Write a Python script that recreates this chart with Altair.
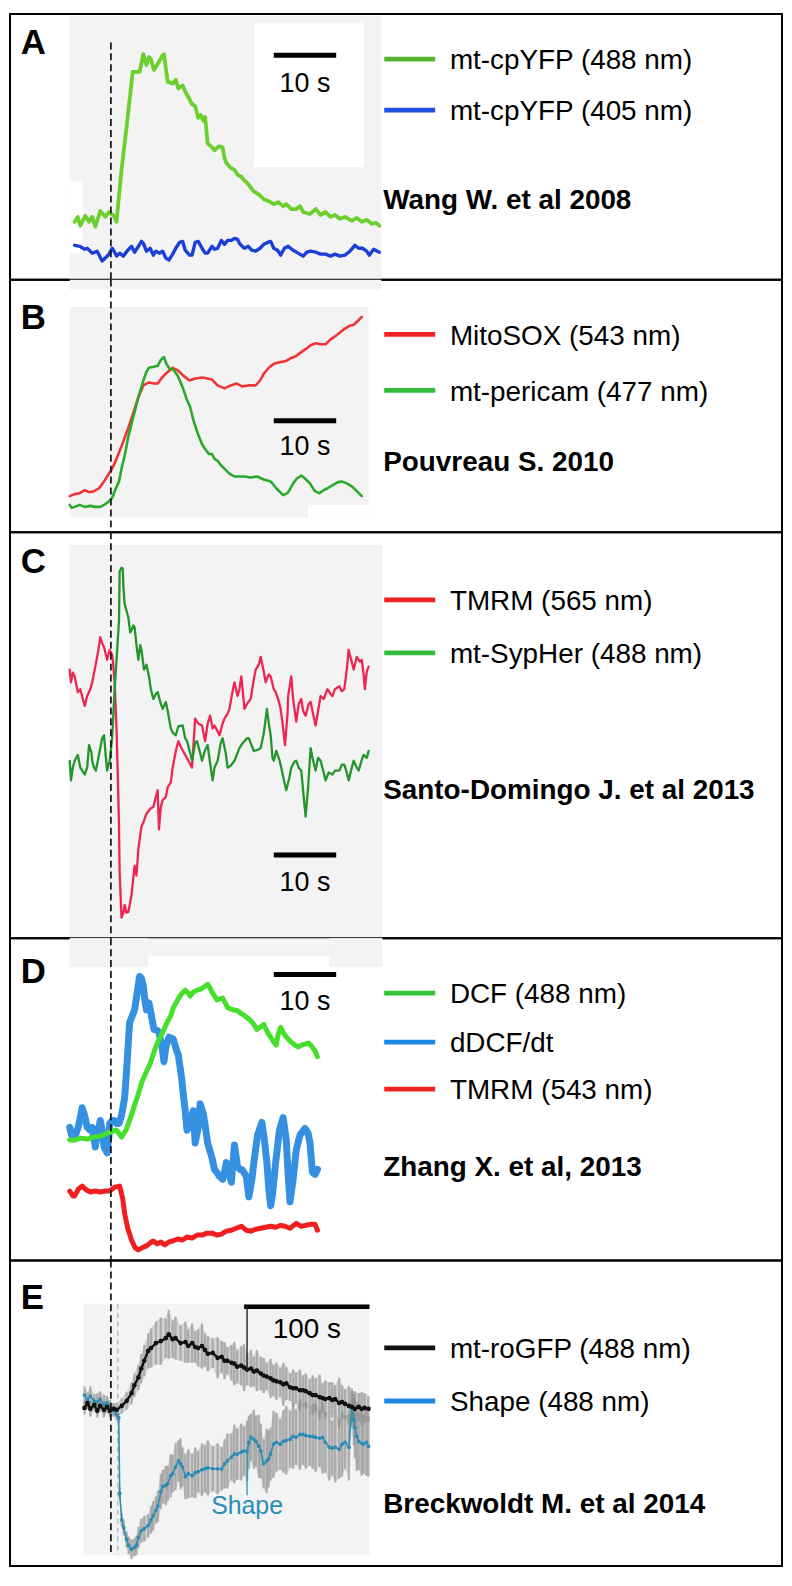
import altair as alt
import pandas as pd

# ---------------- data ----------------
# time: seconds relative to the stimulus (dashed line); signal: arbitrary units

# Panel A  (Wang W. et al 2008)
T_A_G = [-5.8,-5.3,-4.9,-4.1,-3.5,-3.0,-2.5,-1.7,-0.9,-0.3,0.5,0.9,1.7,2.5,3.5,4.6,5.2,5.7,6.1,6.4,
         6.9,7.7,8.2,8.5,9.1,9.9,10.4,10.8,11.5,11.9,12.6,13.0,13.5,14.0,14.4,14.8,15.1,15.5,16.2,16.6,
         17.3,17.9,18.2,18.5,19.2,19.8,20.3,20.9,21.4,21.8,22.4,22.9,23.7,24.5,25.3,26.1,26.8,27.6,28.1,28.9,
         29.7,30.3,30.8,31.9,32.8,33.6,34.4,35.2,35.9,36.7,37.5,38.6,39.4,40.2,41.0,41.8,42.5,43.0]
V_A_G = [59,64,55,65,59,64,54,70,64,69,65,59,112,155,212,212,230,219,227,225,
         214,222,228,230,202,200,204,195,198,192,184,179,177,165,168,162,166,139,135,132,
         136,135,124,119,114,112,107,105,101,99,94,90,87,82,80,77,79,75,77,72,
         72,75,69,67,72,66,69,64,66,62,64,60,63,59,61,57,58,55]
T_A_B = [-5.8,-5.0,-4.2,-3.8,-3.0,-2.2,-1.4,-0.9,-0.3,0.2,0.6,0.9,1.4,2.0,2.7,3.3,3.8,4.4,4.9,5.2,
         5.7,6.3,6.8,7.2,7.8,8.3,8.8,9.3,9.9,10.4,11.0,11.5,11.9,12.6,13.0,13.5,14.0,14.6,15.1,15.5,
         16.2,16.6,17.1,17.7,18.2,18.7,19.3,19.8,20.3,20.7,21.4,22.0,22.6,23.2,23.9,24.5,25.1,25.6,26.1,26.7,
         27.2,27.8,28.4,29.2,30.0,30.8,31.4,32.0,32.8,33.6,34.4,35.2,35.9,36.7,37.5,38.3,39.1,39.7,40.3,41.0,
         41.4,42.1,43.0]
V_A_B = [35,34,31,32,27,29,19,22,26,32,28,24,27,24,30,34,28,34,39,37,
         29,32,25,29,27,29,22,20,26,32,38,39,30,25,25,38,39,32,27,27,
         34,31,32,40,36,40,40,42,41,36,32,34,30,29,32,36,38,39,32,30,
         25,32,34,30,27,24,28,29,28,26,26,24,26,24,25,29,35,32,32,29,
         25,31,28]

# Panel B  (Pouvreau S. 2010)
T_B_R = [-6.6,-5.8,-5.0,-4.2,-3.5,-2.7,-1.9,-1.1,-0.5,0.2,0.9,1.7,2.7,3.6,4.4,5.2,6.1,6.9,7.5,8.2,
         8.8,9.9,10.8,11.6,12.6,13.5,14.6,15.5,16.2,17.1,18.2,19.2,20.1,21.0,22.1,23.2,23.9,24.5,25.3,26.1,
         27.2,28.1,28.9,29.7,30.5,31.2,32.0,32.8,33.6,34.4,35.2,35.9,36.7,37.5,38.3,38.9,39.6,40.2]
V_B_R = [37,39,40,43,41,42,45,52,58,65,75,88,105,122,138,150,153,152,152,158,
         162,168,165,160,155,157,158,157,156,150,147,150,152,149,150,150,155,162,168,172,
         174,175,178,180,184,187,191,193,192,192,197,200,204,208,211,212,216,220]
T_B_G = [-6.6,-6.3,-5.8,-5.0,-4.2,-3.3,-2.5,-1.7,-1.1,-0.6,0.2,0.6,1.3,1.7,2.2,2.8,3.6,4.4,5.2,5.7,
         6.1,6.9,7.5,8.0,8.5,8.9,9.4,10.0,10.7,11.5,12.2,12.7,13.2,13.7,14.1,14.6,15.1,15.7,16.2,16.6,
         17.1,17.7,18.2,19.0,19.8,20.6,21.4,22.4,23.4,24.5,25.6,26.5,27.6,28.3,28.7,29.2,29.8,30.5,31.1,31.9,
         32.7,33.4,34.1,34.7,35.5,36.3,37.0,37.8,38.6,39.4,40.2]
V_B_G = [28,25,26,28,26,27,26,26,28,30,35,42,52,65,78,98,118,138,155,164,
         168,169,170,176,179,172,167,166,160,148,135,128,115,105,98,90,85,80,80,75,
         73,68,65,60,57,57,57,56,57,54,52,45,38,40,44,50,55,58,55,50,
         42,40,43,45,48,51,52,50,47,42,37]

# Panel C  (Santo-Domingo J. et al 2013)
T_C_R = [-6.6,-6.4,-6.1,-5.8,-5.3,-4.9,-4.2,-3.8,-3.3,-3.0,-2.5,-2.0,-1.7,-1.4,-1.1,-0.6,-0.2,0.2,0.3,0.6,
         0.9,1.1,1.3,1.4,1.7,2.0,2.2,2.5,2.8,3.3,3.8,4.1,4.4,4.9,5.2,5.7,6.3,6.8,7.2,7.5,
         7.7,8.0,8.3,8.8,9.1,9.6,9.9,10.4,10.8,11.3,11.9,12.6,13.0,13.5,14.0,14.6,15.1,15.5,15.9,16.3,
         16.6,17.1,17.4,17.9,18.2,18.7,19.0,19.5,19.8,20.3,20.6,20.9,21.4,21.8,22.4,22.9,23.2,23.7,24.0,24.5,
         24.8,25.3,25.6,26.1,26.4,26.8,27.2,27.6,27.9,28.3,28.4,28.9,29.2,29.7,30.1,30.5,30.8,31.2,31.7,32.0,
         32.5,32.8,33.2,33.6,34.1,34.7,35.2,35.5,35.9,36.6,37.0,37.4,37.8,38.1,38.5,38.9,39.4,39.9,40.2,40.5,
         40.7,41.0,41.3]
V_C_R = [274,261,271,267,251,254,237,247,254,261,277,294,307,301,297,284,294,289,284,261,
         214,167,114,67,21,26,34,26,27,44,74,64,91,114,118,127,132,134,144,151,
         111,134,141,144,154,159,174,191,201,194,187,179,174,224,219,217,201,219,227,214,
         217,211,207,219,224,229,234,252,261,247,254,267,234,239,244,264,274,279,287,272,
         261,269,267,254,251,244,234,214,197,229,247,267,244,221,239,244,232,227,239,241,
         226,217,232,247,244,254,249,247,254,257,252,254,274,294,284,274,287,282,284,269,
         254,272,277]
T_C_G = [-6.6,-6.4,-6.1,-5.8,-5.3,-4.9,-4.2,-3.8,-3.5,-3.1,-3.0,-2.7,-2.4,-2.0,-1.7,-1.4,-1.1,-0.8,-0.6,-0.3,
         -0.2,0.2,0.3,0.6,0.8,1.1,1.3,1.4,1.7,1.9,2.0,2.2,2.5,2.8,3.1,3.3,3.6,3.8,4.1,4.4,
         4.7,4.9,5.2,5.3,5.7,6.1,6.4,6.8,7.2,7.5,8.0,8.3,8.8,9.1,9.6,10.0,10.4,10.8,11.5,11.9,
         12.2,12.7,13.0,13.5,13.8,14.3,14.6,15.1,15.5,16.0,16.3,16.6,17.1,17.6,17.9,18.4,18.7,19.2,19.8,20.3,
         20.6,21.0,21.4,21.8,22.1,22.6,22.9,23.5,24.0,24.5,25.0,25.3,25.6,25.9,26.1,26.5,27.0,27.3,27.8,28.1,
         28.6,28.9,29.4,29.7,30.1,30.5,30.9,31.2,31.6,32.0,32.3,32.8,33.2,33.6,34.1,34.4,34.9,35.5,35.9,36.6,
         37.0,37.4,37.8,38.1,38.6,38.9,39.4,39.7,40.2,40.5,41.0,41.3]
V_C_G = [181,161,174,181,187,174,167,174,197,189,181,174,171,184,194,204,207,184,171,179,
         181,204,217,254,274,304,324,374,378,377,359,341,334,327,312,314,319,317,299,284,
         299,294,279,274,279,267,254,244,249,251,239,234,241,232,214,209,207,216,217,204,
         201,189,181,199,201,189,181,192,197,174,161,174,181,199,204,189,174,176,181,189,
         194,198,201,204,204,196,191,192,194,209,234,219,207,184,181,191,182,174,159,151,
         164,174,180,181,174,171,144,124,154,194,184,171,184,181,169,161,169,167,171,171,
         177,177,169,161,174,181,174,171,182,187,184,191]

# Panel D  (Zhang X. et al, 2013)
T_D_G = [-6.6,-5.8,-4.9,-3.8,-2.7,-1.7,-0.6,0.2,0.9,1.7,2.4,3.0,3.6,4.4,5.0,5.7,6.3,6.9,7.5,8.3,
         9.0,9.6,10.0,10.7,11.3,11.9,12.4,12.7,13.2,13.8,14.4,15.1,15.5,15.9,16.3,17.0,17.4,17.9,18.4,18.7,
         19.5,20.3,20.9,21.4,22.0,22.4,22.9,23.4,23.9,24.5,25.1,25.6,26.1,26.5,26.8,27.2,27.6,27.9,28.4,28.9,
         29.5,30.0,30.6,31.1,31.6,32.0,32.5,32.8,33.1]
V_D_G = [123,123,125,124,126,127,130,132,133,126,133,143,155,170,183,193,201,213,223,233,
         243,250,258,266,272,276,273,270,274,276,277,280,282,278,273,266,267,268,262,258,
         256,255,252,250,247,245,241,236,238,241,233,228,223,220,231,238,233,230,226,223,
         220,218,220,221,222,220,216,213,208]
T_D_B = [-6.6,-6.3,-5.8,-5.3,-5.0,-4.6,-4.2,-3.8,-3.3,-3.0,-2.5,-2.2,-1.7,-1.4,-1.1,-0.6,-0.3,-0.2,0.2,0.5,
         0.9,1.3,1.7,2.2,2.5,3.0,3.5,3.8,4.2,4.6,4.9,5.2,5.5,5.7,6.1,6.4,6.9,7.4,7.7,8.2,
         8.5,8.8,9.3,9.7,10.0,10.5,10.8,11.3,11.6,11.9,12.2,12.7,13.2,13.5,14.0,14.3,14.8,15.1,15.5,16.2,
         16.6,17.1,17.4,17.9,18.2,18.5,19.0,19.3,19.8,20.3,20.7,21.0,21.7,22.1,22.6,22.9,23.5,24.2,24.6,25.0,
         25.3,25.6,25.9,26.4,27.0,27.6,28.1,28.4,28.7,29.2,29.7,30.3,31.1,31.6,31.9,32.3,32.7,33.1]
V_D_B = [136,128,126,135,143,156,148,136,133,136,116,128,143,133,116,110,128,140,143,143,
         140,140,148,166,193,243,251,256,273,290,288,280,263,256,263,253,236,235,233,218,
         203,218,228,227,226,215,210,188,170,153,133,140,153,120,136,160,150,138,120,105,
         93,89,86,83,90,100,88,80,118,96,93,93,86,65,83,100,128,141,123,100,
         73,56,68,100,133,146,123,88,60,83,113,128,135,130,120,90,88,93]
T_D_R = [-6.6,-6.1,-5.8,-5.2,-4.6,-3.9,-3.3,-2.5,-1.7,-0.9,-0.2,0.6,1.4,1.9,2.2,2.7,3.3,3.9,4.4,5.0,
         5.7,6.3,6.8,7.4,8.0,8.6,9.3,9.9,10.7,11.5,12.2,13.0,13.8,14.6,15.4,16.2,17.0,17.7,18.5,19.3,
         20.1,20.9,21.7,22.4,23.2,24.0,24.8,25.6,26.4,27.2,27.9,28.7,29.7,30.5,31.2,32.0,32.7,33.1]
V_D_R = [71,66,66,73,76,72,70,71,70,71,71,75,76,63,48,33,21,13,11,13,
         15,18,20,17,19,16,19,20,22,21,24,23,26,26,28,28,26,27,30,31,
         33,35,31,30,32,33,34,35,34,36,35,33,38,35,36,37,37,31]

# Panel E  (Breckwoldt M. et al 2014)
T_E_K = [-21.1,-18.7,-16.4,-13.3,-10.9,-8.6,-5.5,-3.1,-0.8,2.3,4.7,8.6,12.5,16.4,18.7,21.9,24.2,26.6,29.7,32.0,
         35.9,39.8,43.7,46.1,49.2,51.5,55.5,59.4,61.7,64.8,67.2,69.5,72.6,75.0,77.3,81.2,85.1,88.3,90.6,92.9,
         96.1,98.4,100.7,103.9,106.2,108.6,111.7,114.0,116.4,119.5,121.8,124.2,127.3,129.6,132.0,135.1,137.5,139.8,142.9,145.3,
         147.6,150.7,153.1,155.4,158.5,160.9,163.2,166.4,168.7,171.0,174.2,176.5,178.8,182.0,184.3,186.7,189.8,192.1,194.5,197.6,
         199.9,202.3,205.4]
V_E_K = [161,166,160,164,158,163,159,162,158,160,159,163,168,176,184,192,201,209,219,222,
         227,229,232,236,231,232,227,228,224,227,223,222,224,220,216,217,212,213,209,209,
         207,206,203,204,202,200,201,198,199,196,194,193,191,189,188,187,185,186,182,181,
         181,179,179,178,176,174,174,172,171,170,171,169,170,166,167,165,163,162,160,162,
         160,161,160]
ERR_E_K = [7,6,8,6,7,5,8,6,7,6,7,8,9,11,12,13,15,16,18,20,
           22,24,20,25,19,22,18,21,17,20,16,19,23,17,18,15,21,16,19,14,
           18,22,17,20,24,16,19,15,21,17,18,14,20,16,19,15,22,17,14,19,
           16,21,15,18,14,20,17,23,15,19,16,18,14,26,17,15,20,16,18,14,
           17,15,13]
T_E_S = [-21.1,-18.7,-16.4,-13.3,-10.9,-8.6,-5.5,-3.1,-0.8,2.3,4.7,6.2,7.0,8.6,10.2,12.5,14.1,16.4,18.7,20.3,
         21.9,24.2,26.6,29.7,32.0,33.6,35.9,37.5,39.8,41.4,43.7,45.3,47.6,49.2,51.5,53.9,55.5,57.0,59.4,61.7,
         64.8,67.2,69.5,72.6,75.0,77.3,81.2,85.1,88.3,90.6,92.9,96.1,98.4,100.7,103.9,106.2,108.6,110.1,111.7,114.0,
         115.6,117.9,119.5,121.8,124.2,125.7,127.3,129.6,132.0,135.1,137.5,139.8,142.9,145.3,147.6,150.7,153.1,155.4,158.5,160.9,
         163.2,166.4,168.7,171.0,174.2,176.5,178.8,182.0,184.3,186.7,189.8,192.1,193.7,194.5,196.0,197.6,199.9,201.5,203.8,205.4]
V_E_S = [174,169,173,168,167,170,164,166,161,158,154,151,74,47,39,27,21,17,19,21,
         29,36,38,41,47,51,57,61,76,81,82,84,92,94,101,107,104,101,91,94,
         92,95,96,98,99,100,99,99,99,104,107,111,114,114,116,117,117,126,131,129,
         127,122,117,104,107,109,114,124,126,124,127,128,129,132,131,134,134,133,132,132,
         131,130,131,126,121,120,121,119,124,126,121,161,149,141,132,127,125,124,126,122]
ERR_E_S = [9,8,10,7,9,8,10,7,8,6,6,5,6,7,8,8,9,10,9,10,
           11,12,13,12,14,15,14,16,18,17,20,18,22,19,24,21,26,20,23,25,
           22,26,21,27,24,28,23,26,22,25,28,24,30,26,29,25,31,27,24,30,
           26,32,28,25,33,29,27,34,30,26,32,35,29,33,28,36,31,34,30,33,
           35,29,37,31,34,28,36,30,33,27,34,20,26,31,35,29,33,30,34,31]

# scale bars: [start (s), length (s)]
SCALE_AD = [26.1, 10]
SCALE_E = [106.2, 100]

# ---------------- layout helpers ----------------
FONT = "Liberation Sans"
W = 776
SX = W / 788.0
ONE = pd.DataFrame({"k": [0]})
XDOM_AD = [-16.17, 107.54]
XDOM_E = [-80.5, 535.2]
GREY = "#f3f3f3"


def xs(xr):
    return round((xr - 1) * SX, 2)


class Panel:
    def __init__(self, top, href, h, xdom):
        self.top, self.href, self.h, self.xdom = top, href, h, xdom
        self.sy = h / href
        self.layers = []

    def ys(self, yr):
        return round((yr - self.top) * self.sy, 2)

    def xenc(self, f):
        return alt.X(f, type="quantitative",
                     scale=alt.Scale(domain=self.xdom, nice=False, zero=False), axis=None)

    def yenc(self, f):
        return alt.Y(f, type="quantitative",
                     scale=alt.Scale(domain=[0, self.href], nice=False, zero=False), axis=None)

    def rect(self, x1, x2, y1, y2, color=GREY):
        self.layers.append(alt.Chart(ONE).mark_rect(color=color).encode(
            x=alt.value(xs(x1)), x2=alt.value(xs(x2)),
            y=alt.value(self.ys(y1)), y2=alt.value(self.ys(y2))))

    def line(self, T, V, color, width):
        assert len(T) == len(V)
        df = pd.DataFrame({"t": T, "v": V})
        self.layers.append(alt.Chart(df).mark_line(
            color=color, strokeWidth=width, strokeJoin="round", strokeCap="round").encode(
            x=self.xenc("t"), y=self.yenc("v")))

    def points(self, T, V, color, size):
        df = pd.DataFrame({"t": T, "v": V})
        self.layers.append(alt.Chart(df).mark_point(
            filled=True, color=color, size=size, opacity=1).encode(
            x=self.xenc("t"), y=self.yenc("v")))

    def errband(self, T, V, E, color, width, opacity, area_opacity):
        assert len(T) == len(V) == len(E)
        df = pd.DataFrame({"t": T, "v": V, "e": E})
        df["lo"] = df["v"] - df["e"]
        df["hi"] = df["v"] + df["e"]
        self.layers.append(alt.Chart(df).mark_area(
            color=color, opacity=area_opacity).encode(
            x=self.xenc("t"), y=self.yenc("lo"), y2="hi"))
        self.layers.append(alt.Chart(df).mark_rule(
            color=color, strokeWidth=width, opacity=opacity).encode(
            x=self.xenc("t"), y=self.yenc("lo"), y2="hi"))

    def scalebar(self, sb, yr, ytext, label, size, width=5):
        df = pd.DataFrame({"t1": [sb[0]], "t2": [sb[0] + sb[1]], "tm": [sb[0] + sb[1] / 2]})
        self.layers.append(alt.Chart(df).mark_rule(color="black", strokeWidth=width).encode(
            x=self.xenc("t1"), x2="t2", y=alt.value(self.ys(yr))))
        self.layers.append(alt.Chart(df).mark_text(
            text=label, font=FONT, fontSize=size, align="center", baseline="alphabetic",
            color="black").encode(x=self.xenc("tm"), y=alt.value(self.ys(ytext))))

    def text(self, s, xr, yr, size, bold=False, align="left", color="black"):
        self.layers.append(alt.Chart(ONE).mark_text(
            text=s, font=FONT, fontSize=size, fontWeight="bold" if bold else "normal",
            align=align, baseline="alphabetic", color=color).encode(
            x=alt.value(xs(xr)), y=alt.value(self.ys(yr))))

    def hrule(self, x1, x2, yr, color, width):
        self.layers.append(alt.Chart(ONE).mark_rule(color=color, strokeWidth=width).encode(
            x=alt.value(xs(x1)), x2=alt.value(xs(x2)), y=alt.value(self.ys(yr))))

    def vrule(self, xr, y1, y2, color, width, dash=None):
        kw = {"strokeDash": dash} if dash else {}
        self.layers.append(alt.Chart(ONE).mark_rule(color=color, strokeWidth=width, **kw).encode(
            x=alt.value(xs(xr)), y=alt.value(self.ys(y1)), y2=alt.value(self.ys(y2))))

    def legend(self, entries):
        for label, color, yl in entries:
            self.hrule(383, 435, yl, color, 4.8)
            self.text(label, 450, yl + 10.5, 28)

    def chart(self):
        return alt.layer(*self.layers).properties(width=W, height=self.h)


DASH = [7, 4]
LETTER = 35
CIT = 28
SB_FONT = 27

# ---------------- Panel A ----------------
pA = Panel(1, 271, 267, XDOM_AD)
pA.rect(62, 380, 3, 272)
pA.rect(250, 362, 10, 157, "white")
pA.rect(62, 75, 172, 245, "white")
pA.line(T_A_B, V_A_B, "#1b3fd6", 3.4)
pA.line(T_A_G, V_A_G, "#6bcf2e", 3.8)
pA.scalebar(SCALE_AD, 43, 80.5, "10 s", SB_FONT)
pA.text("A", 12, 42, LETTER, bold=True)
pA.legend([("mt-cpYFP (488 nm)", "#57b52f", 47), ("mt-cpYFP (405 nm)", "#1f4fe0", 99)])
pA.text("Wang W. et al 2008", 382, 200, CIT, bold=True)
pA.vrule(104, 30, 272, "#111", 1.7, DASH)

# ---------------- Panel B ----------------
pB = Panel(272, 258, 254, XDOM_AD)
pB.rect(62, 380, 272, 282)
pB.rect(62, 367, 300, 515)
pB.rect(305, 367, 502, 515, "white")
pB.line(T_B_R, V_B_R, "#f03434", 2.6)
pB.line(T_B_G, V_B_G, "#2aa92a", 2.6)
pB.scalebar(SCALE_AD, 416, 451.5, "10 s", SB_FONT)
pB.text("B", 12, 322, LETTER, bold=True)
pB.legend([("MitoSOX (543 nm)", "#ee2222", 328), ("mt-pericam (477 nm)", "#33bb3c", 385)])
pB.text("Pouvreau S. 2010", 382, 467, CIT, bold=True)
pB.vrule(104, 272, 530, "#111", 1.7, DASH)

# ---------------- Panel C ----------------
pC = Panel(530, 414, 408, XDOM_AD)
pC.rect(62, 381, 543, 944)
pC.line(T_C_R, V_C_R, "#ee2452", 2.3)
pC.line(T_C_G, V_C_G, "#22962a", 2.3)
pC.scalebar(SCALE_AD, 859, 896, "10 s", SB_FONT)
pC.text("C", 12, 571, LETTER, bold=True)
pC.legend([("TMRM (565 nm)", "#ee2222", 599), ("mt-SypHer (488 nm)", "#33bb3c", 653)])
pC.text("Santo-Domingo J. et al 2013", 382, 802, CIT, bold=True)
pC.vrule(104, 530, 944, "#111", 1.7, DASH)

# ---------------- Panel D ----------------
pD = Panel(944, 329, 324, XDOM_AD)
pD.rect(62, 381, 944, 962)
pD.rect(62, 142, 944, 973)
pD.rect(327, 381, 944, 973)
pD.line(T_D_B, V_D_B, "#3590e2", 7)
pD.line(T_D_G, V_D_G, "#46e02c", 5)
pD.line(T_D_R, V_D_R, "#f01e1e", 5)
pD.scalebar(SCALE_AD, 981, 1017, "10 s", SB_FONT)
pD.text("D", 12, 990, LETTER, bold=True)
pD.legend([("DCF (488 nm)", "#35c435", 1000), ("dDCF/dt", "#1e88e5", 1050),
           ("TMRM (543 nm)", "#ee2222", 1098)])
pD.text("Zhang X. et al, 2013", 382, 1187, CIT, bold=True)
pD.vrule(104, 944, 1273, "#111", 1.7, DASH)

# ---------------- Panel E ----------------
pE = Panel(1273, 311, 307, XDOM_E)
pE.rect(76, 368, 1317, 1573)
pE.errband(T_E_S, V_E_S, ERR_E_S, "#8c8c8c", 2.4, 0.55, 0.3)
pE.errband(T_E_K, V_E_K, ERR_E_K, "#8c8c8c", 2.4, 0.55, 0.3)
pE.vrule(111, 1317, 1573, "#b5b5b5", 1.3, [5, 4])
pE.line(T_E_S, V_E_S, "#2a8db5", 1.6)
pE.points(T_E_S, V_E_S, "#2a8db5", 14)
pE.line(T_E_K, V_E_K, "#111111", 2.4)
pE.points(T_E_K, V_E_K, "#111111", 22)
pE.scalebar(SCALE_E, 1320, 1352, "100 s", 28, width=4.5)
pE.vrule(243, 1320, 1385, "#222", 1.4)
pE.vrule(243, 1467, 1512, "#2a9a9a", 1.3)
pE.text("Shape", 243, 1531, 25, align="center", color="#2a8db5")
pE.text("E", 12, 1322, LETTER, bold=True)
pE.legend([("mt-roGFP (488 nm)", "#111111", 1362), ("Shape (488 nm)", "#1e88e5", 1416)])
pE.text("Breckwoldt M. et al 2014", 382, 1530, CIT, bold=True)
pE.vrule(104, 1273, 1573, "#111", 1.7, DASH)

chart = alt.vconcat(
    pA.chart(), pB.chart(), pC.chart(), pD.chart(), pE.chart(),
    spacing=0, bounds="flush"
).configure_view(
    stroke="black", strokeWidth=2
).properties(
    padding={"left": 1, "right": 1, "top": 1, "bottom": 1},
    background="white"
)

chart.save("out.html", embed_options={"renderer": "svg", "actions": False})
